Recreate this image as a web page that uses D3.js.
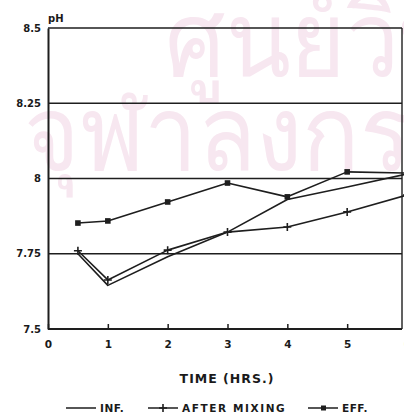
<!DOCTYPE html>
<html>
<head>
<meta charset="utf-8">
<script src="https://cdn.jsdelivr.net/npm/d3@7"></script>
<style>
  html, body { margin: 0; padding: 0; background: #fff; }
  svg { display: block; }
  text { font-family: "DejaVu Sans", sans-serif; font-weight: bold; fill: #1a1a1a; }
</style>
</head>
<body>
<svg id="chart" width="404" height="418"></svg>
<script>
// pH over time for the three sampling points
const hours = [0.5, 1, 2, 3, 4, 5, 6];
const infValues = [7.75, 7.645, 7.74, 7.822, 7.93, 7.972, 8.015];
const mixValues = [7.76, 7.663, 7.762, 7.822, 7.839, 7.889, 7.945];
const effValues = [7.852, 7.859, 7.922, 7.985, 7.939, 8.022, 8.018];

const xTicks = [0, 1, 2, 3, 4, 5, 6];
const yTicks = [7.5, 7.75, 8, 8.25, 8.5];
const yTickLabels = ["7.5", "7.75", "8", "8.25", "8.5"];
const seriesNames = ["INF.", "AFTER MIXING", "EFF."];

const svg = d3.select("#chart");
const ink = "#1e1e1e";

const x = d3.scaleLinear().domain([0, 6]).range([48, 407]);
const y = d3.scaleLinear().domain([7.5, 8.5]).range([329, 28]);
const frameRight = 402;

// faint library watermark behind the plot
const wm = svg.append("g");
[["ศูนย์วิทยทรัพยากร", 165, 76], ["จุฬาลงกรณ์มหาวิทยาลัย", 24, 170]].forEach(([t, tx, ty]) => {
  wm.append("text")
    .attr("transform", `translate(${tx},${ty}) scale(0.95,1.05)`)
    .attr("font-size", 100)
    .attr("font-family", "Noto Sans Thai, Noto Sans, sans-serif")
    .style("font-weight", "normal")
    .style("fill", "#f7e7f0")
    .text(t);
});

// horizontal grid lines and top frame
svg.append("g").selectAll("line").data(yTicks.slice(1)).join("line")
  .attr("x1", x(0)).attr("x2", frameRight)
  .attr("y1", d => y(d)).attr("y2", d => y(d))
  .attr("stroke", ink).attr("stroke-width", 1.6);

// right frame
svg.append("line").attr("x1", frameRight).attr("x2", frameRight)
  .attr("y1", y(8.5)).attr("y2", y(7.5))
  .attr("stroke", ink).attr("stroke-width", 1.4);

// x axis
const xAxis = d3.axisBottom(x).tickValues(xTicks).tickSize(-5).tickPadding(12).tickFormat(d3.format("d"));
const gx = svg.append("g").attr("transform", `translate(0,${y(7.5)})`).call(xAxis);
gx.select(".domain").attr("stroke", ink).attr("stroke-width", 2).attr("d", `M${x(0)},0H${frameRight}`);
gx.selectAll(".tick line").attr("stroke", ink).attr("stroke-width", 1.5);
gx.selectAll(".tick text").attr("font-size", 10.5).style("font-family", "DejaVu Sans").style("font-weight", "bold").attr("fill", ink);

// y axis
const yAxis = d3.axisLeft(y).tickValues(yTicks).tickSize(0).tickPadding(7)
  .tickFormat((d, i) => yTickLabels[i]);
const gy = svg.append("g").attr("transform", `translate(${x(0)},0)`).call(yAxis);
gy.select(".domain").attr("stroke", ink).attr("stroke-width", 2);
gy.selectAll(".tick text").attr("font-size", 10).style("font-family", "DejaVu Sans").style("font-weight", "bold").attr("fill", ink);

svg.append("text").attr("x", x(0)).attr("y", 22).attr("font-size", 10).text("pH");

svg.append("text").attr("x", 227).attr("y", 383).attr("text-anchor", "middle")
  .attr("font-size", 12.5).attr("letter-spacing", 1).text("TIME (HRS.)");

// series lines
const line = d3.line().x((d, i) => x(hours[i])).y(d => y(d));
const allSeries = [infValues, mixValues, effValues];
svg.append("g").selectAll("path").data(allSeries).join("path")
  .attr("d", line).attr("fill", "none").attr("stroke", ink)
  .attr("stroke-width", 1.6).attr("stroke-linejoin", "round");

// plus markers for after mixing
svg.append("g").selectAll("path").data(mixValues).join("path")
  .attr("transform", (d, i) => `translate(${x(hours[i])},${y(d)})`)
  .attr("d", "M-4,0H4M0,-4V4").attr("stroke", ink).attr("stroke-width", 1.6);

// filled squares for effluent
svg.append("g").selectAll("rect").data(effValues).join("rect")
  .attr("x", (d, i) => x(hours[i]) - 2.8).attr("y", d => y(d) - 2.8)
  .attr("width", 5.6).attr("height", 5.6).attr("fill", ink);

// legend
const legendX = [66, 148, 308];
const lg = svg.append("g").attr("transform", "translate(0,408)");
seriesNames.forEach((name, i) => {
  const g = lg.append("g").attr("transform", `translate(${legendX[i]},0)`);
  g.append("line").attr("x1", 0).attr("x2", 30).attr("y1", 0).attr("y2", 0)
    .attr("stroke", ink).attr("stroke-width", 1.5);
  if (i === 1) {
    g.append("path").attr("d", "M11,0H19M15,-4V4").attr("stroke", ink).attr("stroke-width", 1.6);
  }
  if (i === 2) {
    g.append("rect").attr("x", 13).attr("y", -2.5).attr("width", 5).attr("height", 5).attr("fill", ink);
  }
  g.append("text").attr("x", 34).attr("y", 4).attr("font-size", 10.5)
    .attr("letter-spacing", i === 1 ? 1.6 : 0.5).text(name);
});
</script>
</body>
</html>
